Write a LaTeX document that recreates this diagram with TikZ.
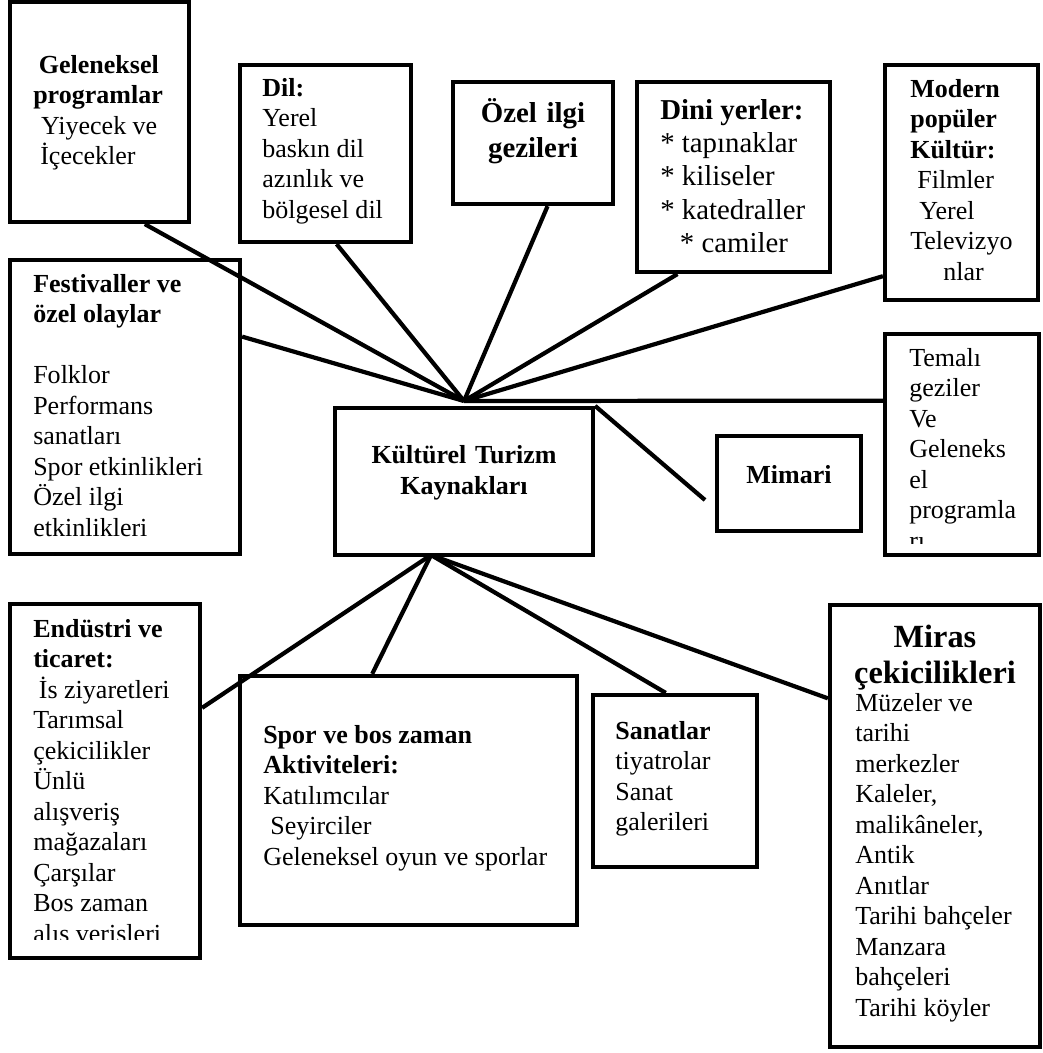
\documentclass[tikz,border=0pt]{standalone}
\usepackage{fontspec}
\setmainfont{Liberation Serif}
\usetikzlibrary{fit}

\begin{document}
\begin{tikzpicture}[x=0.025cm,y=-0.025cm,
        kutu/.style={draw,line width=3pt,inner sep=0pt},
        yazi/.style={anchor=north west,yshift=15pt,align=left,inner sep=0pt,
          execute at begin node={\rule{0pt}{15pt}},
          font=\fontsize{18.5}{21.7}\selectfont},
        kalin/.style={align=center,font=\bfseries\fontsize{18.5}{22}\selectfont},
        bag/.style={line width=3pt}]
      \useasboundingbox (0,0) rectangle (1042,1053);
      \node[kutu,fit={(10,2) (189,222)}] (gelen) {};
      \node[kutu,fit={(240,65) (411,242)}] (dil) {};
      \node[kutu,fit={(453,82) (613,204)},kalin,
        font=\bfseries\fontsize{20.5}{24.5}\selectfont] (ozel) {Özel ilgi\\gezileri};
      \node[kutu,fit={(637,82) (830,272)}] (dini) {};
      \node[kutu,fit={(885,65) (1038,300)}] (modern) {};
      \node[kutu,fit={(10,260) (240,554)}] (fest) {};
      \node[kutu,fit={(335,408) (593,555)},kalin] (merkez) {Kültürel Turizm\\Kaynakları};
      \node[kutu,fit={(717,436) (861,531)},kalin] (mimari) {Mimari};
      \node[kutu,fit={(885,334) (1039,555)}] (temali) {};
      \node[kutu,fit={(10,604) (200,958)}] (endustri) {};
      \node[kutu,fit={(240,676) (577,925)}] (spor) {};
      \node[kutu,fit={(593,695) (757,867)}] (sanat) {};
      \node[kutu,fit={(830,605) (1040,1047)}] (miras) {};

      \node[yazi] (gelenY) at (33,76) {\hspace*{4pt}\textbf{Geleneksel}\\\textbf{programlar}\\
        \hspace*{5.5pt}Yiyecek ve\\\hspace*{5pt}İçecekler};
      \node[yazi] (dilY) at (262,99) {\textbf{Dil:}\\Yerel\\baskın dil\\azınlık ve\\bölgesel dil};
      \node[yazi,font=\fontsize{20.5}{23.7}\selectfont] (diniY) at (660,120)
        {\textbf{Dini yerler:}\\{*} tapınaklar\\{*} kiliseler\\{*} katedraller\\\hspace*{14pt}{*} camiler};
      \node[yazi] (modernY) at (910,100) {\textbf{Modern}\\\textbf{popüler}\\\textbf{Kültür:}\\
        \hspace*{5pt}Filmler\\\hspace*{6.5pt}Yerel\\Televizyo\\\hspace*{23.5pt}nlar};
      \node[yazi] (festY) at (33,295) {\textbf{Festivaller ve}\\\textbf{özel olaylar}\\[21.7pt]
        Folklor\\Performans\\sanatları\\Spor etkinlikleri\\Özel ilgi\\etkinlikleri};
      \begin{scope}
        \clip (885,334) rectangle (1039,543);
        \node[yazi] (temaliY) at (909,369) {Temalı\\geziler\\Ve\\Geleneks\\el\\programla\\rı};
      \end{scope}
      \begin{scope}
        \clip (10,604) rectangle (200,939);
        \node[yazi] (endustriY) at (33,640) {\textbf{Endüstri ve}\\\textbf{ticaret:}\\
          \hspace*{4pt}İs ziyaretleri\\Tarımsal\\çekicilikler\\Ünlü\\alışveriş\\mağazaları\\
          Çarşılar\\Bos zaman\\alış verişleri};
      \end{scope}
      \node[yazi] (sporY) at (263,746) {\textbf{Spor ve bos zaman}\\\textbf{Aktiviteleri:}\\
        Katılımcılar\\\hspace*{5pt}Seyirciler\\Geleneksel oyun ve sporlar};
      \node[yazi] (sanatY) at (615,742) {\textbf{Sanatlar}\\tiyatrolar\\Sanat\\galerileri};
      \node[anchor=north,yshift=18pt,inner sep=0pt,kalin,font=\bfseries\fontsize{23}{26}\selectfont,
        execute at begin node={\rule{0pt}{18pt}}] (mirasB) at (935,650) {Miras\\çekicilikleri};
      \node[yazi] (mirasY) at (855,714) {Müzeler ve\\tarihi\\merkezler\\Kaleler,\\malikâneler,\\
        Antik\\Anıtlar\\Tarihi bahçeler\\Manzara\\bahçeleri\\Tarihi köyler};

      \coordinate (ust) at (464,401);
      \coordinate (alt) at (431,555);
      \coordinate (mimariuc) at (705,500);
      \draw[bag] (gelen.-68) -- (ust);
      \draw[bag] (dil.-83) -- (ust);
      \draw[bag] (ozel.-77) -- (ust);
      \draw[bag] (dini.-120) -- (ust);
      \draw[bag] (modern.-130.5) -- (ust);
      \draw[bag] (fest.31.7) -- (ust);
      \draw[bag] (temali.151.1) -- (ust);
      \draw[bag] (merkez.north east) -- (mimariuc);
      \draw[bag] (alt) -- (endustri.37.9);
      \draw[bag] (alt) -- (spor.106.8);
      \draw[bag] (alt) -- (sanat.96);
      \draw[bag] (alt) -- (miras.130.5);
    \end{tikzpicture}
\end{document}
